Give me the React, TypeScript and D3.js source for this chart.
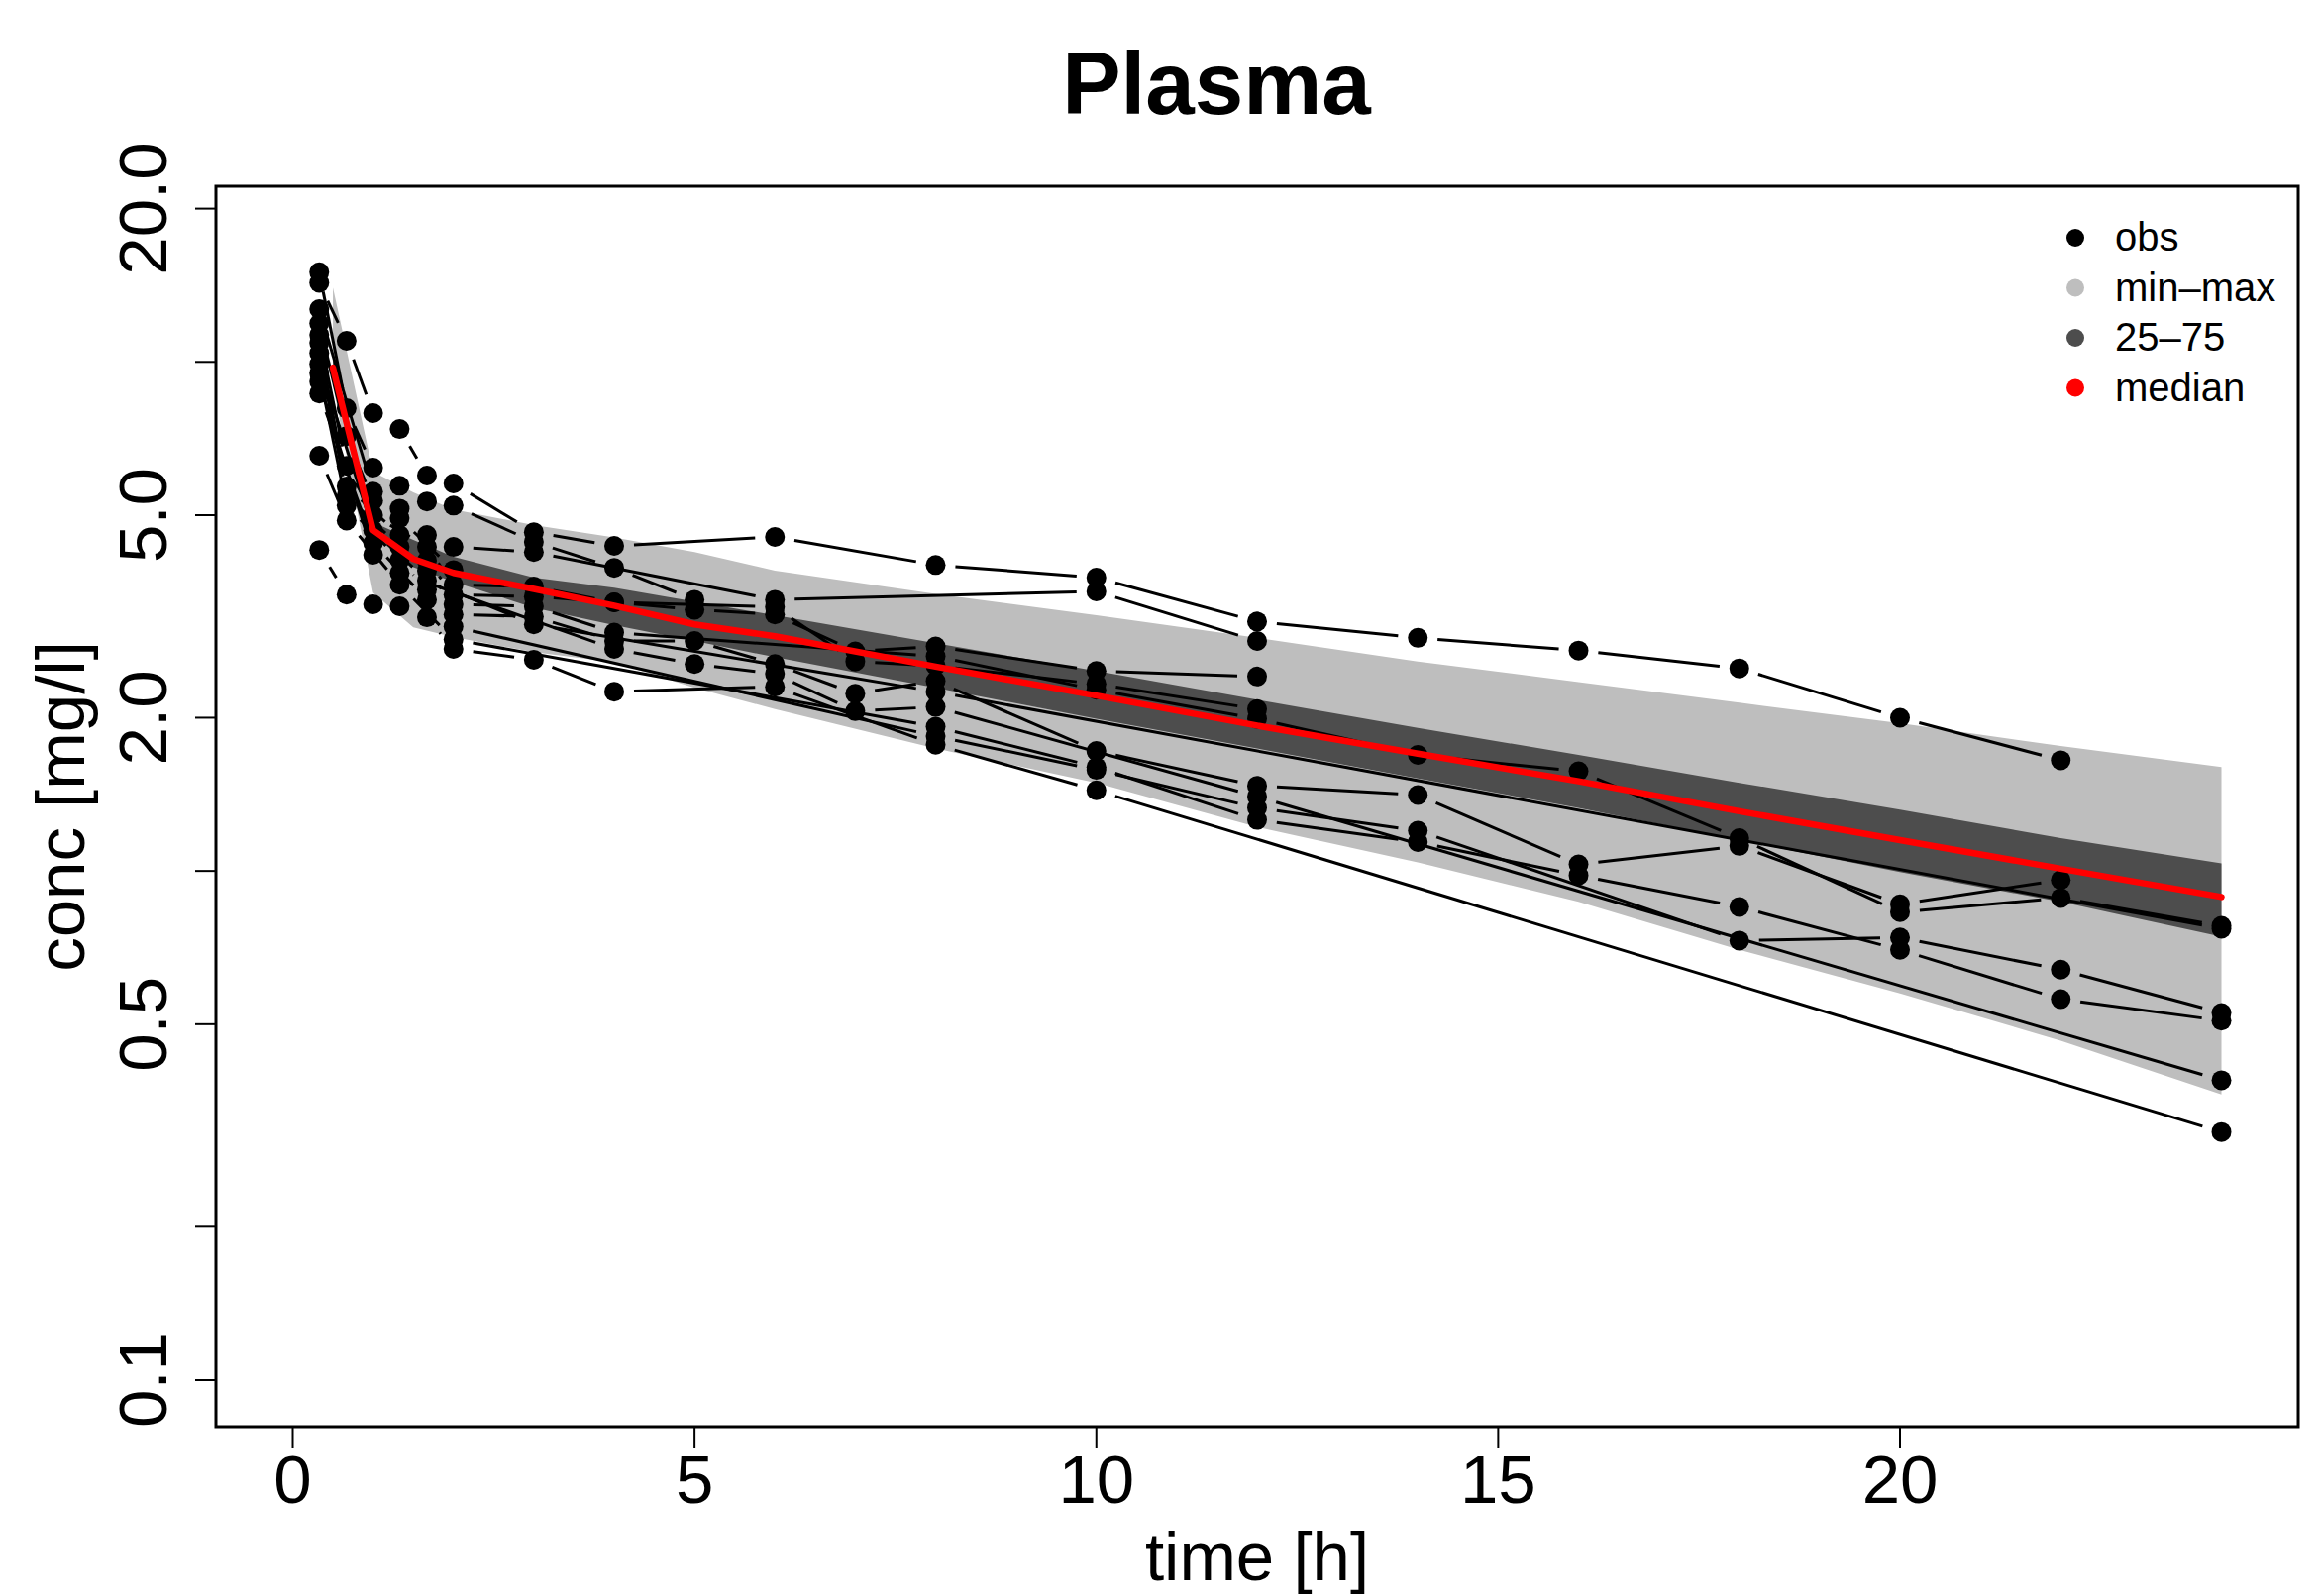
import React from 'react';
import * as d3 from 'd3';

const W = 2344;
const H = 1611;
const FONT = "'Liberation Sans', Arial, Helvetica, sans-serif";

// Simulated summary bands (time in h, conc in mg/l)
const bandTime = [0.5, 1, 1.5, 2, 3, 4, 5, 6, 8, 10, 12, 14, 16, 18, 20, 22, 24];
const bandMin = [9.0, 3.52, 3.01, 2.88, 2.69, 2.57, 2.29, 2.08, 1.74, 1.49, 1.22, 1.04, 0.87, 0.7, 0.575, 0.464, 0.364];
const bandMax = [14.0, 6.08, 5.54, 5.13, 4.78, 4.52, 4.23, 3.89, 3.5, 3.18, 2.87, 2.58, 2.35, 2.14, 1.95, 1.76, 1.6];
const bandP25 = [9.2, 4.57, 3.95, 3.7, 3.29, 3.04, 2.83, 2.63, 2.29, 1.99, 1.74, 1.52, 1.33, 1.15, 0.995, 0.87, 0.743];
const bandP75 = [10.3, 4.84, 4.47, 4.14, 3.77, 3.6, 3.38, 3.18, 2.8, 2.47, 2.17, 1.91, 1.69, 1.49, 1.32, 1.16, 1.035];
const bandMedian = [9.74, 4.67, 4.1, 3.85, 3.58, 3.32, 3.05, 2.89, 2.52, 2.21, 1.93, 1.7, 1.5, 1.31, 1.15, 1.01, 0.889];

// Observed individual profiles: [time, conc]
const subjA: [number, number][] = [[0.33, 14.3], [0.67, 11.0], [1, 7.93], [1.33, 7.38], [1.67, 5.98], [2, 5.77], [3, 4.63], [4, 4.35], [6, 4.53], [8, 3.99], [10, 3.77], [12, 3.09], [14, 2.87], [16, 2.71], [18, 2.5], [20, 2.0], [22, 1.65]];
const subjM: [number, number][] = [[0.33, 15.0], [0.67, 8.11], [1, 6.2], [1.33, 5.71], [1.67, 5.32], [2, 5.22], [3, 4.43], [4, 3.94], [5, 3.41]];
const subjB: [number, number][] = [[0.33, 12.7], [1, 5.56], [1.33, 5.15], [1.67, 4.57], [2, 4.33], [3, 4.23], [6, 3.41], [10, 3.54], [12, 2.83]];
const subjN: [number, number][] = [[0.33, 11.9], [0.67, 7.15], [1, 5.34], [1.33, 4.93], [2, 3.9]];
const subjK: [number, number][] = [[0.33, 11.3], [0.67, 6.25], [1, 5.0], [1.67, 4.33], [2, 3.65], [3, 3.62], [4, 3.37], [5, 3.26], [6, 3.19], [7, 2.7], [8, 2.76], [10, 2.47], [12, 2.41]];
const subjL: [number, number][] = [[0.33, 10.9], [0.67, 5.69], [1.33, 4.57], [1.67, 4.07], [2, 3.49], [3, 3.46], [4, 3.37], [6, 3.3], [7, 2.58], [8, 2.53], [10, 2.33], [12, 2.08]];
const subjE: [number, number][] = [[0.33, 10.4], [0.67, 5.46], [1.33, 4.33], [1.67, 3.89], [2, 3.34], [3, 3.31], [4, 2.94], [8, 2.64], [10, 2.27], [12, 1.99], [14, 1.69], [16, 1.57], [18, 1.16], [20, 0.83], [22, 0.885], [24, 0.78]];
const subjC: [number, number][] = [[0.33, 9.9], [1, 4.67], [1.67, 3.72], [3, 3.05], [8, 2.25], [24, 0.77]];
const subjF: [number, number][] = [[0.33, 9.5], [0.67, 5.22], [1.33, 4.08], [1.67, 3.57], [2, 3.19], [3, 3.16], [4, 2.83], [5, 2.83], [6, 2.55], [7, 2.23], [8, 2.36], [10, 1.72], [12, 1.47], [14, 1.41], [16, 1.03], [18, 1.12], [20, 0.86], [22, 0.96]];
const subjG: [number, number][] = [[0.33, 9.15], [1, 4.18], [1.33, 3.85], [4, 2.73], [5, 2.55], [6, 2.44], [7, 2.06], [8, 2.1], [12, 1.4], [24, 0.388]];
const subjI: [number, number][] = [[0.33, 8.67], [1, 4.41], [1.67, 3.41], [2, 3.02], [8, 1.84], [10, 1.58], [12, 1.33], [14, 1.2], [18, 0.73], [20, 0.74], [22, 0.64], [24, 0.526]];
const subjH: [number, number][] = [[0.33, 6.54], [0.67, 4.88], [1.33, 3.65], [2, 2.85], [8, 1.92], [10, 1.6], [12, 1.26], [14, 1.14], [16, 0.98], [18, 0.85], [20, 0.7], [22, 0.56], [24, 0.508]];
const subjJ: [number, number][] = [[0.33, 4.27], [0.67, 3.49], [1, 3.34], [1.33, 3.31], [1.67, 3.15], [2, 2.73], [3, 2.6], [4, 2.25], [6, 2.3], [8, 1.77], [10, 1.44], [24, 0.307]];

const subjects = [subjA, subjM, subjB, subjN, subjK, subjL, subjE, subjC, subjF, subjG, subjI, subjH, subjJ];

const xTicks = [0, 5, 10, 15, 20];
const yTicks = [0.1, 0.2, 0.5, 1, 2, 5, 10, 20];
const yTickLabels = ['0.1', '', '0.5', '', '2.0', '5.0', '', '20.0'];

const legendLabels = ['obs', 'min\u2013max', '25\u201375', 'median'];
const legendColors = ['#000000', '#BEBEBE', '#4D4D4D', '#FF0000'];

export default function App() {
  const box = { left: 218, right: 2320, top: 188, bottom: 1440 };
  const x = d3.scaleLinear().domain([0, 20]).range([295.5, 1918]);
  const y = d3.scaleLog().domain([0.1, 20]).range([1393, 210.6]);

  const area = (lo: number[], hi: number[]) =>
    d3
      .area<number>()
      .x((t) => x(t))
      .y0((_, i) => y(lo[i]))
      .y1((_, i) => y(hi[i]))(bandTime) || '';

  const medianPath =
    d3
      .line<number>()
      .x((t) => x(t))
      .y((_, i) => y(bandMedian[i]))(bandTime) || '';

  const gap = 20;
  const segs: { x1: number; y1: number; x2: number; y2: number }[] = [];
  subjects.forEach((s) => {
    for (let i = 0; i < s.length - 1; i++) {
      const ax = x(s[i][0]);
      const ay = y(s[i][1]);
      const bx = x(s[i + 1][0]);
      const by = y(s[i + 1][1]);
      const dx = bx - ax;
      const dy = by - ay;
      const d = Math.sqrt(dx * dx + dy * dy);
      if (d <= 2 * gap) continue;
      const ux = dx / d;
      const uy = dy / d;
      segs.push({ x1: ax + ux * gap, y1: ay + uy * gap, x2: bx - ux * gap, y2: by - uy * gap });
    }
  });

  const legendX = 2095;
  const legendY0 = 240;
  const legendStep = 50.5;

  return (
    <svg
      width={W}
      height={H}
      viewBox={`0 0 ${W} ${H}`}
      style={{ position: 'absolute', left: 0, top: 0, display: 'block', background: '#fff' }}
    >
      <rect x={0} y={0} width={W} height={H} fill="#fff" />
      <path d={area(bandMin, bandMax)} fill="#BEBEBE" />
      <path d={area(bandP25, bandP75)} fill="#4D4D4D" />
      {segs.map((s, i) => (
        <line key={'s' + i} x1={s.x1} y1={s.y1} x2={s.x2} y2={s.y2} stroke="#000" strokeWidth={3} />
      ))}
      {subjects.map((s, si) =>
        s.map((p, pi) => <circle key={`p${si}-${pi}`} cx={x(p[0])} cy={y(p[1])} r={10} fill="#000" />)
      )}
      <path d={medianPath} fill="none" stroke="#FF0000" strokeWidth={6.5} strokeLinejoin="round" strokeLinecap="round" />

      {/* box */}
      <rect
        x={box.left}
        y={box.top}
        width={box.right - box.left}
        height={box.bottom - box.top}
        fill="none"
        stroke="#000"
        strokeWidth={3}
      />

      {/* x axis */}
      {xTicks.map((t) => (
        <g key={'xt' + t}>
          <line x1={x(t)} x2={x(t)} y1={box.bottom} y2={box.bottom + 22} stroke="#000" strokeWidth={2} />
          <text x={x(t)} y={1517} textAnchor="middle" fontFamily={FONT} fontSize={69} fill="#000">
            {t}
          </text>
        </g>
      ))}
      <text x={(box.left + box.right) / 2} y={1595} textAnchor="middle" fontFamily={FONT} fontSize={69} fill="#000">
        time [h]
      </text>

      {/* y axis */}
      {yTicks.map((v, i) => (
        <g key={'yt' + v}>
          <line x1={box.left - 21} x2={box.left} y1={y(v)} y2={y(v)} stroke="#000" strokeWidth={2} />
          {yTickLabels[i] !== '' && (
            <text
              transform={`translate(168,${y(v)}) rotate(-90)`}
              textAnchor="middle"
              fontFamily={FONT}
              fontSize={69}
              fill="#000"
            >
              {yTickLabels[i]}
            </text>
          )}
        </g>
      ))}
      <text
        transform={`translate(85,${(box.top + box.bottom) / 2}) rotate(-90)`}
        textAnchor="middle"
        fontFamily={FONT}
        fontSize={69}
        fill="#000"
      >
        conc [mg/l]
      </text>

      {/* title */}
      <text x={1228} y={115} textAnchor="middle" fontFamily={FONT} fontSize={89} fontWeight="bold" fill="#000">
        Plasma
      </text>

      {/* legend */}
      {legendLabels.map((lab, i) => (
        <g key={'lg' + i}>
          <circle cx={legendX} cy={legendY0 + i * legendStep} r={9} fill={legendColors[i]} />
          <text x={2135} y={legendY0 + i * legendStep + 13} fontFamily={FONT} fontSize={40} fill="#000">
            {lab}
          </text>
        </g>
      ))}
    </svg>
  );
}
